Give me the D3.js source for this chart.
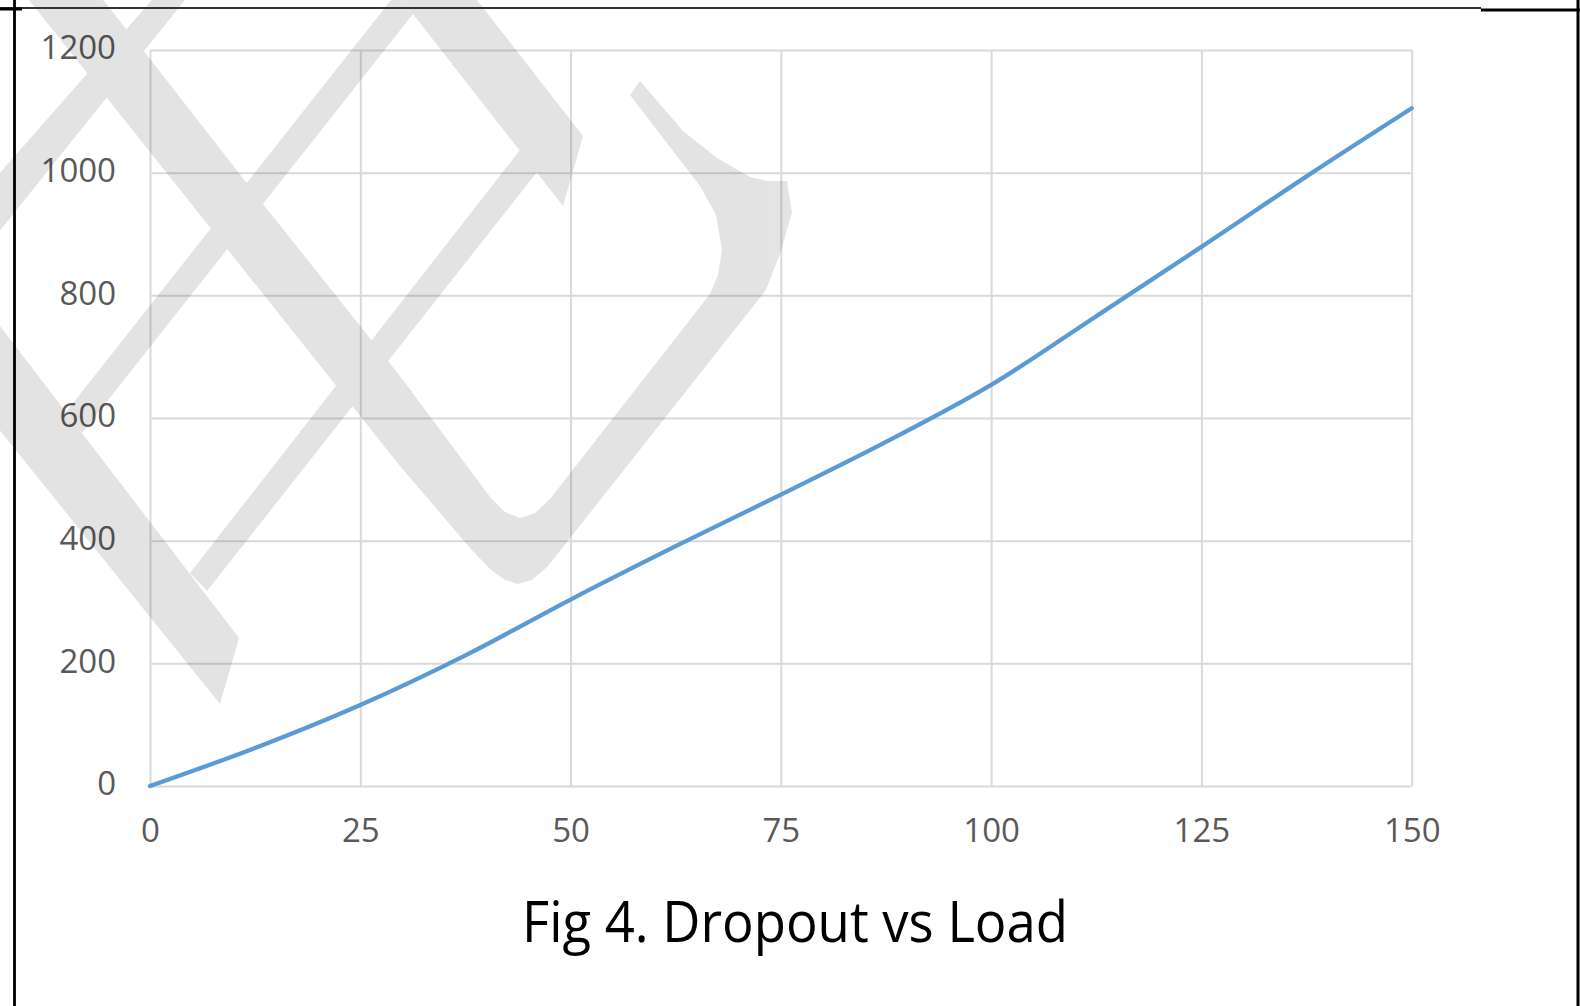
<!DOCTYPE html>
<html>
<head>
<meta charset="utf-8">
<script src="https://cdn.jsdelivr.net/npm/d3@7"></script>
<style>
  body { margin: 0; background: #fff; }
  svg { display: block; }
</style>
</head>
<body>
<svg></svg>
<script>
// data
const loads = [0, 12.5, 25, 37.5, 50, 62.5, 75, 87.5, 100, 112.5, 125, 137.5, 150]
const dropout = [0, 62, 132, 213, 304, 391, 475, 561, 654, 766, 879, 994, 1105]
const xTicks = [0, 25, 50, 75, 100, 125, 150]
const yTicks = [0, 200, 400, 600, 800, 1000, 1200]
const title = "Fig 4. Dropout vs Load"

const w = 1580
const h = 1006
const plotLeft = 150
const plotRight = 1411.7
const plotTop = 50
const plotBottom = 786

let svg = d3.select('svg')
  .attr("width", w)
  .attr("height", h)

let xScale = d3.scaleLinear().domain([0, 150]).range([plotLeft, plotRight])
let yScale = d3.scaleLinear().domain([0, 1200]).range([plotBottom, plotTop])

let drawGrid = () => {
  let yAxis = d3.axisLeft(yScale)
    .tickValues(yTicks)
    .tickFormat(d3.format("d"))
    .tickSize(-(plotRight - plotLeft))
    .tickPadding(34)
  let xAxis = d3.axisBottom(xScale)
    .tickValues(xTicks)
    .tickFormat(d3.format("d"))
    .tickSize(-(plotBottom - plotTop))
    .tickPadding(33)

  let gy = svg.append("g")
    .attr("id", "y-axis")
    .attr("transform", "translate(" + plotLeft + ",0)")
    .call(yAxis)
  let gx = svg.append("g")
    .attr("id", "x-axis")
    .attr("transform", "translate(0," + plotBottom + ")")
    .call(xAxis)

  for (let g of [gx, gy]) {
    g.select(".domain").remove()
    g.selectAll("line").attr("stroke", "#d9d9d9").attr("stroke-width", 2)
    g.selectAll("text")
      .attr("fill", "#595959")
      .style("font-family", "'Open Sans', sans-serif")
      .style("font-size", "33px")
  }
  gy.selectAll("text").attr("dy", "0.27em")
  gx.selectAll("text").attr("dy", "0.71em")
}

// faint logo stamped over the page
let drawWatermark = () => {
  let shapes = [
    // long stroke from the top edge into the hooked "U"
    [[29,0],[400,466],[470,548],[490,569],[505,580],[518,584],[532,580],[548,566],[766,290],[780,254],[792,213],[787,181],
     [767,181],[750,177],[717,158],[683,131],[640,81],[630,95],[700,186],[716,215],[722,250],[718,275],[710,294],[550,499],
     [535,513],[520,518],[505,512],[490,497],[400,376],[263,204],[143,50],[103,0]],
    // right leg of the peak
    [[402,0],[477,0],[583,136],[563,206],[413,14]],
    // thin leg of the peak
    [[66,412],[391,0],[402,0],[413,14],[82,433]],
    // thin stroke off the right leg
    [[520,150],[537,172],[207,591],[190,573]],
    // thin stroke at top left
    [[-10,184],[152,0],[185,0],[-10,243]],
    // lower left stroke with pointed end
    [[-10,313],[239,638],[220,704],[-10,418]]
  ]
  svg.append("g")
    .attr("id", "watermark")
    .attr("opacity", 0.106)
    .selectAll("path")
    .data(shapes)
    .enter()
    .append("path")
    .attr("d", d => "M" + d.map(p => p.join(",")).join("L") + "Z")
    .attr("fill", "#000")
}

let drawLine = () => {
  let pts = loads.map((l, i) => [l, dropout[i]])
  let line = d3.line()
    .x(d => xScale(d[0]))
    .y(d => yScale(d[1]))
    .curve(d3.curveCatmullRom)
  svg.append("path")
    .datum(pts)
    .attr("d", line)
    .attr("fill", "none")
    .attr("stroke", "#5b9bd5")
    .attr("stroke-width", 4.3)
    .attr("stroke-linecap", "round")
}

let drawTitle = () => {
  svg.append("text")
    .attr("x", 795)
    .attr("y", 942)
    .attr("text-anchor", "middle")
    .attr("textLength", 546)
    .attr("lengthAdjust", "spacingAndGlyphs")
    .style("font-family", "'Open Sans', sans-serif")
    .style("font-size", "57px")
    .attr("fill", "#000")
    .text(title)
}

let drawFrame = () => {
  let f = svg.append("g").attr("id", "frame")
  f.append("line").attr("x1", 0).attr("x2", 1481).attr("y1", 8).attr("y2", 8)
    .attr("stroke", "#333").attr("stroke-width", 2)
  f.append("line").attr("x1", 1481).attr("x2", 1580).attr("y1", 10).attr("y2", 10)
    .attr("stroke", "#000").attr("stroke-width", 3)
  f.append("line").attr("x1", 0).attr("x2", 22).attr("y1", 9).attr("y2", 9)
    .attr("stroke", "#000").attr("stroke-width", 3)
  f.append("line").attr("x1", 14.5).attr("x2", 14.5).attr("y1", 0).attr("y2", h)
    .attr("stroke", "#000").attr("stroke-width", 2.8)
  f.append("line").attr("x1", 1578).attr("x2", 1578).attr("y1", 0).attr("y2", h)
    .attr("stroke", "#000").attr("stroke-width", 3)
}

drawGrid()
drawWatermark()
drawLine()
drawTitle()
drawFrame()
</script>
</body>
</html>
